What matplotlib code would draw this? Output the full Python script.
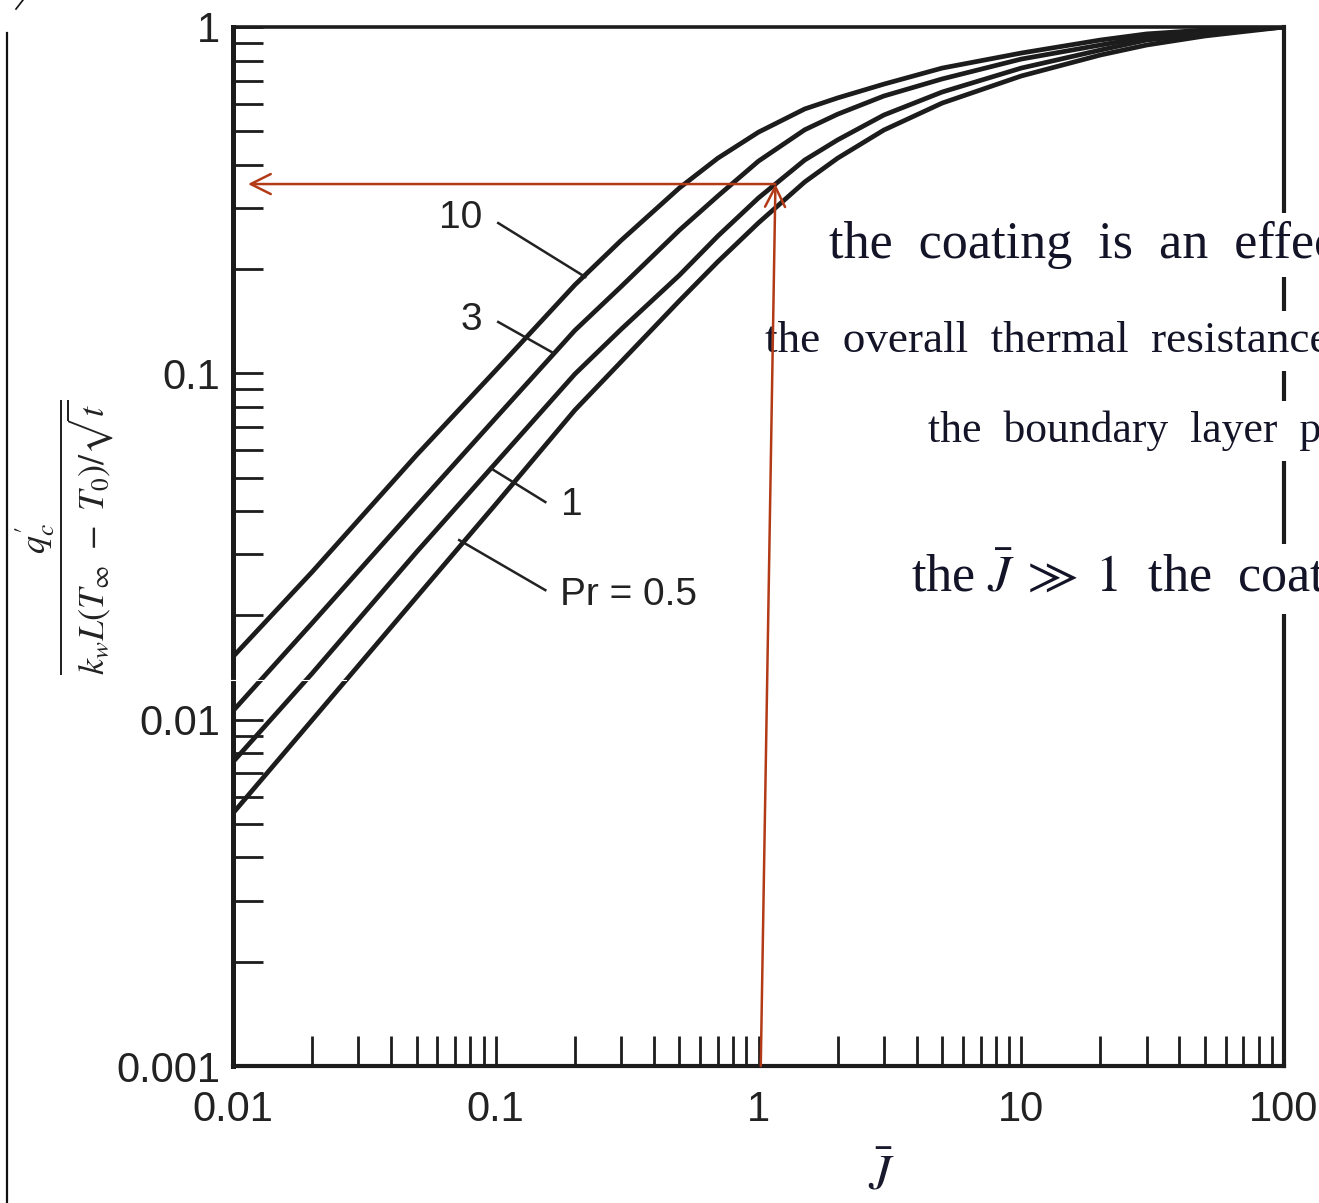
import matplotlib
matplotlib.use("Agg")
import matplotlib.pyplot as plt
from matplotlib.lines import Line2D
from matplotlib.ticker import FixedLocator, FixedFormatter, LogLocator, NullFormatter

plt.rcParams['mathtext.fontset'] = 'stix'

# dimensionless time J-bar
J = [0.01, 0.02, 0.05, 0.1, 0.2, 0.3, 0.5, 0.7, 1, 1.5, 2, 3, 5, 10, 20, 30, 50, 100]

# dimensionless heat flux for each Prandtl number
q_pr10 = [0.0152, 0.0267, 0.0581, 0.102, 0.180, 0.242, 0.343, 0.418, 0.497, 0.580,
          0.624, 0.684, 0.761, 0.841, 0.917, 0.955, 0.980, 1.0]
q_pr3 = [0.0106, 0.0190, 0.0414, 0.0743, 0.133, 0.178, 0.259, 0.325, 0.410, 0.505,
         0.560, 0.632, 0.708, 0.808, 0.887, 0.936, 0.967, 1.0]
q_pr1 = [0.00755, 0.0136, 0.0305, 0.0551, 0.0995, 0.134, 0.192, 0.249, 0.321, 0.413,
         0.472, 0.557, 0.649, 0.761, 0.858, 0.917, 0.955, 1.0]
q_pr05 = [0.00537, 0.00997, 0.0226, 0.0419, 0.0783, 0.108, 0.162, 0.210, 0.272, 0.357,
          0.418, 0.504, 0.603, 0.722, 0.830, 0.887, 0.942, 1.0]

curves = [q_pr10, q_pr3, q_pr1, q_pr05]

# curve labels and their leader lines (data coords)
curve_labels = ['10', '3', '1', 'Pr = 0.5']
label_pos = [(0.0732, 0.281), (0.0807, 0.1425), (0.1956, 0.0417), (0.1761, 0.0229)]
label_ha = ['center', 'center', 'center', 'left']
leader_from = [(0.1022, 0.2716), (0.1022, 0.1407), (0.1544, 0.0425), (0.1544, 0.02366)]
leader_to = [(0.2193, 0.1897), (0.1656, 0.1145), (0.0953, 0.0533), (0.0726, 0.0330)]

xtick_vals = [0.01, 0.1, 1, 10, 100]
xtick_text = ['0.01', '0.1', '1', '10', '100']
ytick_vals = [0.001, 0.01, 0.1, 1]
ytick_text = ['0.001', '0.01', '0.1', '1']

# the reading done with the red arrows
read_J = [1.02, 1.16]
read_q = 0.352

W, H = 1319, 1203


def fx(px):
    return px / W


def fy(py):
    return 1 - py / H


fig = plt.figure(figsize=(W / 100, H / 100), dpi=100)
ax = fig.add_axes([fx(233), fy(1066), 1051 / W, 1039 / H])
ax.set_xscale('log')
ax.set_yscale('log')
ax.set_xlim(0.01, 100)
ax.set_ylim(0.001, 1)

for q in curves:
    ax.plot(J, q, color='#1c1c1c', lw=3.4, solid_capstyle='butt',
            solid_joinstyle='round', zorder=3)

for txt, pos, ha, a, b in zip(curve_labels, label_pos, label_ha, leader_from, leader_to):
    ax.text(pos[0], pos[1], txt, ha=ha, va='center', fontsize=28,
            family='Liberation Sans', color='#222222')
    ax.plot([a[0], b[0]], [a[1], b[1]], color='#222222', lw=1.8, zorder=3)

# ticks
ax.xaxis.set_major_locator(FixedLocator(xtick_vals))
ax.xaxis.set_major_formatter(FixedFormatter(xtick_text))
ax.yaxis.set_major_locator(FixedLocator(ytick_vals))
ax.yaxis.set_major_formatter(FixedFormatter(ytick_text))
ax.xaxis.set_minor_locator(LogLocator(base=10, subs=range(2, 10)))
ax.yaxis.set_minor_locator(LogLocator(base=10, subs=range(2, 10)))
ax.xaxis.set_minor_formatter(NullFormatter())
ax.yaxis.set_minor_formatter(NullFormatter())
ax.tick_params(which='both', direction='in', length=21.5, width=2.0,
               color='#1c1c1c', top=False, right=False)
ax.tick_params(axis='x', which='major', pad=17)
ax.tick_params(axis='y', which='major', pad=9)
for lab in ax.get_xticklabels() + ax.get_yticklabels():
    lab.set_family('Liberation Sans')
    lab.set_fontsize(30)
    lab.set_color('#222222')

for side, w in zip(['left', 'bottom', 'top', 'right'], [3.6, 3.0, 2.6, 3.0]):
    ax.spines[side].set_linewidth(w)
    ax.spines[side].set_color('#1c1c1c')

ax.set_ylabel(r'$\dfrac{q_c^{\prime}}{k_w L(T_\infty\ -\ T_0)/\sqrt{t}}$', fontsize=26,
              color='#222222', va='center')
ax.yaxis.set_label_coords(-0.16, 0.509)
fig.text(fx(881), fy(1176), r'$\bar{J}$', fontsize=36, ha='center', va='center',
         color='#1a1a2e')

# overlapping text fragments with white backgrounds
frag_kw = dict(family='Liberation Serif', color='#141428', transform=fig.transFigure,
               clip_on=False, zorder=5, va='baseline', ha='left')
ax.text(fx(829), fy(258), 'the  coating  is  an  effec', fontsize=37.5,
        bbox=dict(facecolor='white', edgecolor='none', pad=6), **frag_kw)
ax.text(fx(765), fy(352), 'the  overall  thermal  resistance', fontsize=32.5,
        bbox=dict(facecolor='white', edgecolor='none', pad=7), **frag_kw)
ax.text(fx(928), fy(442), 'the  boundary  layer  p', fontsize=31.5,
        bbox=dict(facecolor='white', edgecolor='none', pad=7), **frag_kw)
ax.text(fx(911), fy(592), r'the $\bar{J}\;\gg\;1$  the  coat', fontsize=37.5,
        bbox=dict(facecolor='white', edgecolor='none', pad=8), **frag_kw)

# red reading arrows
red = '#b33a17'
ax.annotate('', xy=(0.0114, read_q), xytext=(read_J[1], read_q), annotation_clip=False,
            arrowprops=dict(arrowstyle='->', color=red, lw=1.8, mutation_scale=36,
                            shrinkA=0, shrinkB=0), zorder=7)
ax.annotate('', xy=(read_J[1], read_q), xytext=(read_J[0], 0.001), annotation_clip=False,
            arrowprops=dict(arrowstyle='->', color=red, lw=1.8, mutation_scale=36,
                            shrinkA=0, shrinkB=0), zorder=7)

# page border bits of the screenshot
fig.add_artist(Line2D([fx(7), fx(7)], [fy(33), fy(1203)], color='#111111', lw=1.6))
fig.add_artist(Line2D([fx(16), fx(23)], [fy(9), fy(0)], color='#111111', lw=1.2))
fig.add_artist(Line2D([fx(40), fx(346)], [fy(680), fy(680)], color='white', lw=0.8,
                      zorder=10))

fig.savefig('out.png', dpi=100)
